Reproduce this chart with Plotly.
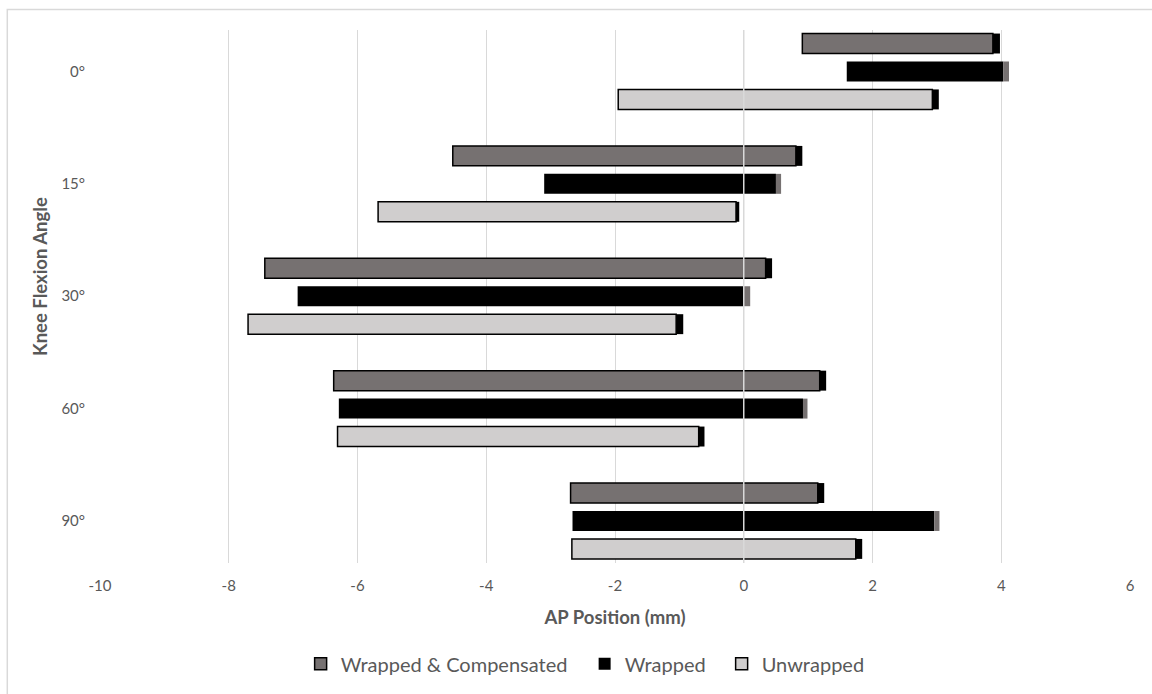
import plotly.graph_objects as go

# Knee flexion angles (top to bottom)
angles = ["0°", "15°", "30°", "60°", "90°"]

# AP position ranges (mm): start of bar, end of bar, end of the cap segment
wc_start = [0.91, -4.52, -7.44, -6.37, -2.69]
wc_end = [3.87, 0.81, 0.34, 1.18, 1.15]
wc_cap = [3.98, 0.91, 0.44, 1.28, 1.25]

wr_start = [1.60, -3.10, -6.93, -6.29, -2.66]
wr_end = [4.03, 0.50, 0.00, 0.92, 2.96]
wr_cap = [4.12, 0.58, 0.10, 0.99, 3.04]

uw_start = [-1.95, -5.68, -7.70, -6.31, -2.67]
uw_end = [2.93, -0.12, -1.05, -0.70, 1.74]
uw_cap = [3.03, -0.07, -0.94, -0.61, 1.84]

x_ticks = [-10, -8, -6, -4, -2, 0, 2, 4, 6]

DARK_GRAY = "#767171"
LIGHT_GRAY = "#D0CECE"
BLACK = "#000000"
TEXT = "#595959"
GRID = "#D9D9D9"
FONT = "Lato"

series = [
    ("Wrapped & Compensated", wc_start, wc_end, wc_cap, DARK_GRAY, BLACK, 1.5, BLACK, 239),
    ("Wrapped", wr_start, wr_end, wr_cap, BLACK, BLACK, 0, DARK_GRAY, 92),
    ("Unwrapped", uw_start, uw_end, uw_cap, LIGHT_GRAY, BLACK, 1.5, BLACK, None),
]

fig = go.Figure()
for name, start, end, cap, fill, edge, edge_w, cap_color, lw in series:
    fig.add_trace(go.Bar(
        name=name,
        y=angles,
        x=[e - s for s, e in zip(start, end)],
        base=start,
        orientation="h",
        offsetgroup=name,
        marker=dict(color=fill, line=dict(color=edge, width=edge_w)),
        legendwidth=lw,
        hoverinfo="skip",
    ))
    fig.add_trace(go.Bar(
        name=name + " cap",
        y=angles,
        x=[c - e for e, c in zip(end, cap)],
        base=end,
        orientation="h",
        offsetgroup=name,
        marker=dict(color=cap_color, line=dict(width=0)),
        showlegend=False,
        hoverinfo="skip",
    ))

# zero line drawn over the bars
fig.add_shape(type="line", xref="x", yref="paper", x0=0, x1=0, y0=0, y1=1,
              line=dict(color=GRID, width=1.5), layer="above")
# chart frame
fig.add_shape(type="rect", xref="paper", yref="paper", x0=-0.090, x1=1.2,
              y0=-0.5, y1=1.0384, line=dict(color=GRID, width=1.5), layer="below")

# vertical axis title
fig.add_annotation(text="<b>Knee Flexion Angle</b>", xref="paper", yref="paper",
                   x=-0.058, y=0.537, xanchor="center", yanchor="middle",
                   textangle=-90, showarrow=False,
                   font=dict(size=18.5, color=TEXT, family=FONT))

fig.update_layout(
    width=1152, height=694,
    margin=dict(l=100, r=22, t=30, b=130),
    paper_bgcolor="white", plot_bgcolor="white",
    barmode="group", bargap=0.254, bargroupgap=0.286,
    font=dict(family=FONT, color=TEXT),
    showlegend=True,
    legend=dict(orientation="h", x=0.471, xanchor="center", y=-0.187, yanchor="middle",
                font=dict(size=20, color=TEXT), traceorder="normal", itemclick=False),
    xaxis=dict(
        range=[-10, 6], tickvals=x_ticks, ticktext=[str(v) for v in x_ticks],
        showgrid=True, gridcolor=GRID, gridwidth=1, zeroline=False,
        showline=False, tickfont=dict(size=15, color=TEXT), ticklabelstandoff=12,
        title=dict(text="<b>AP Position (mm)</b>", font=dict(size=18.5, color=TEXT), standoff=18),
        automargin=False,
    ),
    yaxis=dict(
        type="category", categoryarray=angles, range=[4.374, -0.369], autorange=False,
        showgrid=False, zeroline=False, showline=False,
        tickfont=dict(size=15, color=TEXT), ticklabelstandoff=14,
        automargin=False,
    ),
)

fig.write_html("out.html")
